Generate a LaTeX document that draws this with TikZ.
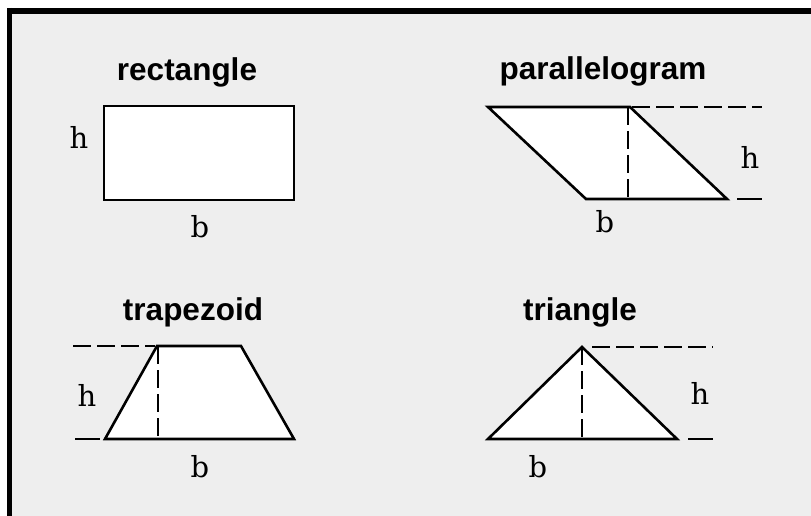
\documentclass[tikz,border=0pt]{standalone}
\usepackage{fontspec}
\newfontfamily\titlefont{Liberation Sans}
\newfontfamily\labfont{DejaVu Serif}
\begin{document}
\begin{tikzpicture}[x=1pt,y=-1pt,
  figshape/.style={draw=black,fill=white,line width=2.6pt,line join=miter},
  hdash/.style={draw=black,line width=2.6pt,dash pattern=on 18pt off 6pt},
  tickline/.style={draw=black,line width=2.6pt},
  title/.style={font=\titlefont\bfseries\fontsize{31.5}{36}\selectfont,anchor=base,inner sep=0pt},
  lab/.style={font=\labfont\fontsize{29}{34}\selectfont,inner sep=0pt}]
\useasboundingbox (0,0) rectangle (811,516);
\fill[gray!13] (10,11) rectangle (811,516);
\draw[line width=6pt] (7,11) -- (811,11);
\draw[line width=5pt] (9.5,8) -- (9.5,516);

% rectangle
\node[title] (t1) at (187,81) {rectangle};
\draw[figshape] (104,106) rectangle (294,200);
\node[lab] (h1) at (79,137) {h};
\node[lab] (b1) at (200,227) {b};

% parallelogram
\node[title] (t2) at (603,80) {parallelogram};
\draw[figshape] (488,107) -- (630,107) -- (727,199) -- (586,199) -- cycle;
\draw[hdash] (628,107) -- (628,199);
\draw[hdash] (632,107) -- (762,107);
\draw[tickline] (737,199) -- (762,199);
\node[lab] (h2) at (750,157) {h};
\node[lab] (b2) at (605,222) {b};

% trapezoid
\node[title] (t3) at (193,320) {trapezoid};
\draw[figshape] (105,439) -- (157,346) -- (241,346) -- (294,439) -- cycle;
\draw[hdash] (73,346) -- (155,346);
\draw[hdash] (158,346) -- (158,439);
\draw[tickline] (75,439) -- (100,439);
\node[lab] (h3) at (87,395) {h};
\node[lab] (b3) at (200,467) {b};

% triangle
\node[title] (t4) at (580,320) {triangle};
\draw[figshape] (488,439) -- (582,347) -- (677,439) -- cycle;
\draw[hdash] (582,347) -- (582,439);
\draw[hdash] (592,347) -- (713,347);
\draw[tickline] (688,439) -- (713,439);
\node[lab] (h4) at (700,393) {h};
\node[lab] (b4) at (538,467) {b};
\end{tikzpicture}
\end{document}
